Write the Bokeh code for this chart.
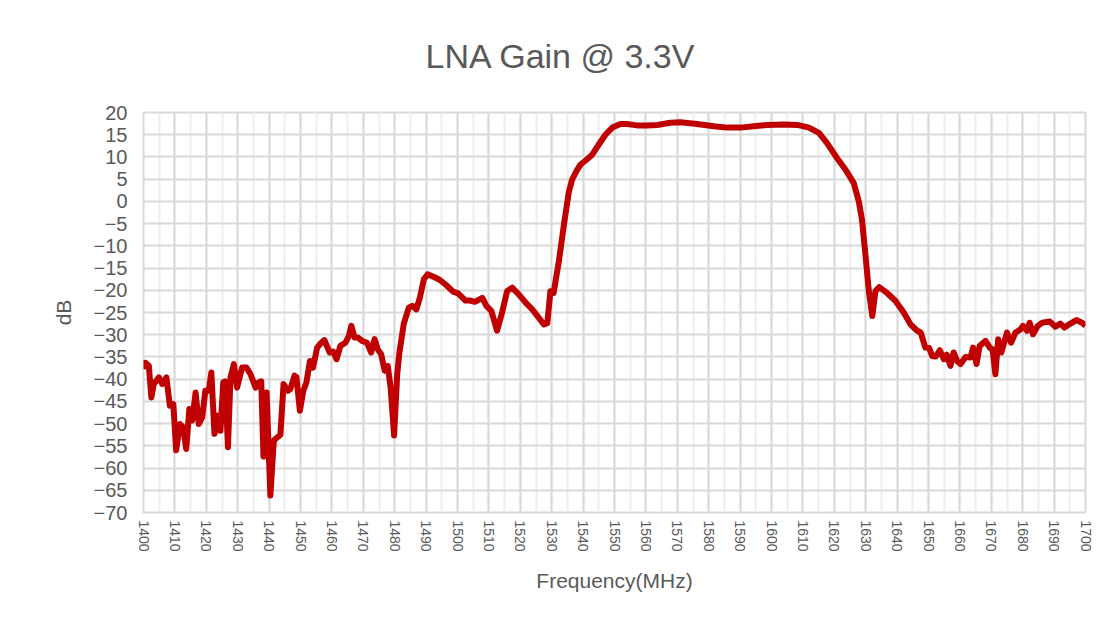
from bokeh.plotting import figure
from bokeh.models import SingleIntervalTicker, ColumnDataSource, Range1d
from bokeh.embed import file_html
from bokeh.resources import INLINE

freq = [1400.0, 1400.6, 1401.7, 1402.5, 1403.3, 1404.9, 1406.0, 1407.3, 1408.4, 1409.5,
        1410.4, 1411.6, 1412.6, 1413.6, 1414.6, 1415.5, 1416.6, 1417.6, 1418.7, 1419.7,
        1420.8, 1421.6, 1422.6, 1423.7, 1424.5, 1425.4, 1426.0, 1426.9, 1427.7, 1428.8,
        1429.8, 1431.4, 1432.8, 1434.1, 1435.7, 1436.7, 1437.5, 1438.2, 1439.2, 1440.4,
        1441.5, 1442.6, 1443.6, 1444.6, 1446.0, 1446.8, 1448.1, 1448.7, 1449.8, 1450.9,
        1451.9, 1453.0, 1454.0, 1455.3, 1456.6, 1457.6, 1459.3, 1460.4, 1461.5, 1462.7,
        1464.3, 1465.4, 1466.2, 1467.2, 1468.2, 1469.6, 1471.2, 1472.5, 1473.6, 1474.6,
        1475.7, 1476.8, 1477.8, 1478.7, 1479.8, 1480.8, 1481.5, 1482.9, 1484.5, 1485.6,
        1486.9, 1488.0, 1489.3, 1490.5, 1492.5, 1494.0, 1496.2, 1498.6, 1500.2, 1502.5,
        1503.9, 1505.5, 1507.9, 1509.2, 1510.8, 1512.6, 1514.2, 1515.8, 1517.4, 1519.5,
        1521.7, 1523.8, 1525.9, 1527.5, 1528.6, 1529.6, 1530.6, 1532.3, 1533.9, 1535.5,
        1536.5, 1538.1, 1539.2, 1540.8, 1542.9, 1545.0, 1547.1, 1549.3, 1551.9, 1554.0,
        1557.2, 1560.4, 1563.6, 1567.8, 1571.0, 1576.3, 1581.6, 1585.9, 1590.1, 1594.4,
        1598.6, 1603.9, 1608.2, 1611.9, 1615.1, 1617.7, 1620.9, 1623.6, 1626.2, 1627.8,
        1628.8, 1629.9, 1631.0, 1632.1, 1633.1, 1634.3, 1636.8, 1639.5, 1642.1, 1644.3,
        1646.4, 1647.5, 1649.0, 1650.2, 1651.2, 1652.3, 1653.6, 1654.9, 1655.8, 1657.0,
        1658.0, 1659.1, 1660.2, 1661.8, 1663.4, 1664.2, 1665.3, 1666.3, 1668.2, 1669.5,
        1670.4, 1671.3, 1672.2, 1673.2, 1675.0, 1676.3, 1677.7, 1679.3, 1680.1, 1681.4,
        1682.2, 1683.3, 1684.8, 1686.2, 1688.6, 1690.4, 1692.0, 1693.3, 1695.2, 1697.1,
        1698.9, 1700.0]

gain_db = [-37.7, -36.3, -37.0, -44.1, -41.1, -39.6, -41.1, -39.6, -46.0, -45.6,
           -56.0, -50.1, -50.8, -55.7, -46.7, -49.3, -43.0, -50.1, -48.6, -42.6,
           -42.6, -38.5, -52.3, -48.2, -51.6, -40.7, -40.5, -55.3, -39.6, -36.6,
           -41.9, -37.4, -37.4, -38.9, -41.9, -40.7, -40.5, -57.4, -43.0, -66.2,
           -53.8, -53.1, -52.5, -41.1, -42.6, -42.2, -39.2, -39.5, -47.1, -42.6,
           -40.7, -35.9, -37.4, -32.9, -31.8, -31.2, -34.0, -33.8, -35.5, -32.5,
           -31.8, -30.3, -28.0, -30.6, -30.6, -31.4, -31.8, -34.0, -31.0, -33.3,
           -34.4, -38.1, -37.0, -41.9, -52.7, -38.9, -34.0, -27.5, -23.9, -23.5,
           -24.3, -21.7, -17.5, -16.4, -17.0, -17.5, -18.7, -20.3, -20.7, -22.3,
           -22.3, -22.6, -21.7, -23.5, -24.7, -29.1, -25.0, -20.2, -19.4, -20.9,
           -22.8, -24.3, -26.2, -27.7, -27.4, -20.2, -20.6, -13.4, -5.2, 2.3,
           4.9, 7.1, 8.3, 9.2, 10.5, 12.8, 15.0, 16.6, 17.4, 17.4,
           17.1, 17.1, 17.2, 17.7, 17.8, 17.4, 16.9, 16.6, 16.6, 16.9,
           17.2, 17.3, 17.2, 16.6, 15.4, 13.1, 9.7, 7.1, 4.1, 0.0,
           -4.0, -11.9, -20.2, -25.8, -20.2, -19.3, -20.6, -22.4, -25.0, -27.7,
           -29.1, -29.5, -32.9, -33.0, -34.8, -34.9, -33.5, -35.5, -34.5, -37.0,
           -34.0, -35.9, -36.6, -35.0, -35.1, -32.9, -36.6, -32.5, -31.4, -32.9,
           -33.3, -38.9, -31.0, -34.0, -29.5, -31.8, -29.5, -28.8, -28.0, -29.1,
           -27.3, -29.9, -28.0, -27.3, -27.0, -28.2, -27.5, -28.4, -27.5, -26.7,
           -27.3, -28.0]

title_text = "LNA Gain @ 3.3V"
x_title = "Frequency(MHz)"
y_title = "dB"

src = ColumnDataSource(dict(f=freq, g=gain_db))

FONT = "Liberation Sans"
TXT = "#595959"

p = figure(width=1100, height=622, output_backend="svg", toolbar_location=None,
           x_range=Range1d(1400, 1700), y_range=Range1d(-70, 20),
           min_border_left=143, min_border_right=15, min_border_top=111,
           min_border_bottom=110, background_fill_color="white",
           border_fill_color="white")

p.title.text = title_text
p.title.align = "left"
p.title.offset = 282
p.title.vertical_align = "top"
p.title.text_font = FONT
p.title.text_font_size = "34px"
p.title.text_font_style = "normal"
p.title.text_color = TXT
p.title.standoff = 72

p.line("f", "g", source=src, line_color="#C00000", line_width=6, line_join="round")

p.xaxis.ticker = SingleIntervalTicker(interval=10, num_minor_ticks=2)
p.yaxis.ticker = SingleIntervalTicker(interval=5)

for ax in (p.xaxis, p.yaxis):
    ax.axis_line_color = None
    ax.major_tick_line_color = None
    ax.minor_tick_line_color = None
    ax.major_label_text_color = TXT
    ax.major_label_text_font = FONT
    ax.axis_label_text_color = TXT
    ax.axis_label_text_font = FONT
    ax.axis_label_text_font_style = "normal"
    ax.axis_label_text_font_size = "21px"

p.xaxis.major_label_orientation = "vertical"
p.xaxis.major_label_text_font_size = "14px"
p.xaxis.major_label_standoff = 2
p.xaxis.axis_label = x_title
p.xaxis.axis_label_standoff = 14

p.yaxis.major_label_text_font_size = "20px"
p.yaxis.major_label_standoff = 10
p.yaxis.axis_label = y_title
p.yaxis.axis_label_standoff = 16

p.xgrid.grid_line_color = "#d9d9d9"
p.xgrid.grid_line_width = 2
p.xgrid.minor_grid_line_color = "#eeeeee"
p.xgrid.minor_grid_line_width = 2
p.ygrid.grid_line_color = "#d9d9d9"
p.ygrid.grid_line_width = 2

p.outline_line_color = "#d9d9d9"
p.outline_line_width = 2

open("out.html", "w").write(file_html(p, INLINE))
